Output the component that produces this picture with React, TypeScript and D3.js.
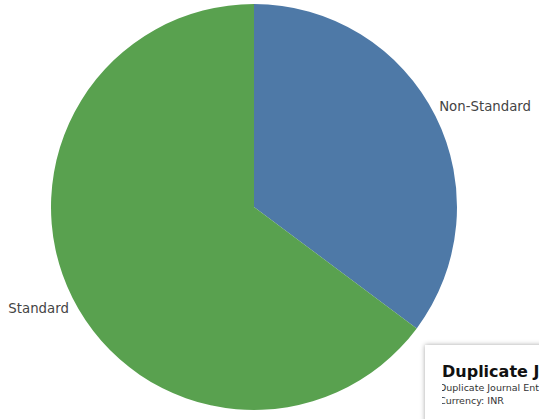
import React from "react";
import * as d3 from "d3";

const categories = ["Non-Standard", "Standard"];
const values = [35.2, 64.8];
const colors = ["#4e79a7", "#59a14f"];
const panelTitle = "Duplicate Journal Entries";
const panelLines = ["Duplicate Journal Entries by Type", "Currency: INR"];

const W = 539;
const H = 419;

export default function App() {
  const cx = 254;
  const cy = 207;
  const r = 203;
  const pie = d3.pie<number>().sort(null).value((d) => d)(values);
  const arc = d3.arc<d3.PieArcDatum<number>>().innerRadius(0).outerRadius(r);
  const labelOffset = (-2 * Math.PI) / 180;
  const labelArc = d3.arc<any>().innerRadius(211).outerRadius(211);

  return (
    <div style={{ position: "fixed", left: 0, top: 0, width: W, height: H, background: "#fff" }}>
      <svg width={W} height={H} style={{ display: "block" }}>
        <defs>
          <filter id="sh" x="-20%" y="-20%" width="140%" height="140%">
            <feDropShadow dx="0" dy="0" stdDeviation="2.5" floodColor="#000" floodOpacity="0.35" />
          </filter>
          <clipPath id="sub">
            <rect x={442} y={340} width={100} height={80} />
          </clipPath>
        </defs>
        <g transform={`translate(${cx},${cy})`}>
          {pie.map((p, i) => (
            <path key={i} d={arc(p) || ""} fill={colors[i]} />
          ))}
          {pie.map((p, i) => {
            const mid = (p.startAngle + p.endAngle) / 2 + labelOffset;
            const [x, y] = labelArc.centroid({ startAngle: mid, endAngle: mid });
            return (
              <text
                key={"l" + i}
                x={x}
                y={y}
                dy="0.35em"
                textAnchor={mid < Math.PI ? "start" : "end"}
                fontFamily="DejaVu Sans, Verdana, sans-serif"
                fontSize={13.3}
                fill="#444"
              >
                {categories[i]}
              </text>
            );
          })}
        </g>
        <rect x={425} y={345} width={140} height={100} fill="#fff" filter="url(#sh)" />
        <text x={442} y={377} fontFamily="DejaVu Sans, Verdana, sans-serif" fontWeight="bold" fontSize={16} fill="#111">
          {panelTitle}
        </text>
        <g clipPath="url(#sub)">
          {panelLines.map((t, i) => (
            <text key={i} x={439} y={391 + i * 13} fontFamily="DejaVu Sans, Verdana, sans-serif" fontSize={9.5} fill="#333">
              {t}
            </text>
          ))}
        </g>
      </svg>
    </div>
  );
}
